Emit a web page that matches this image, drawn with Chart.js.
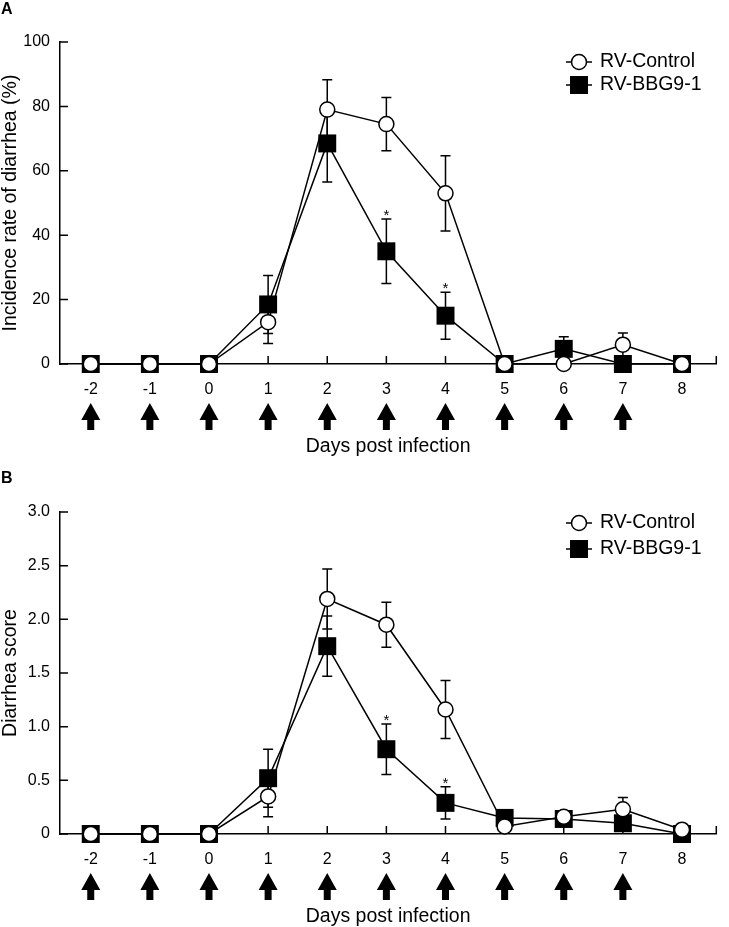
<!DOCTYPE html>
<html>
<head>
<meta charset="utf-8">
<script src="https://cdn.jsdelivr.net/npm/chart.js@4.4.1/dist/chart.umd.min.js"></script>
<style>
  body { margin: 0; background: #fff; overflow: hidden; }
  .panel { position: absolute; left: 0; width: 729px; height: 470px; }
  .letter { position: absolute; left: 1px; font: bold 16px 'Liberation Sans', Arial, sans-serif; color: #000; }
</style>
</head>
<body>
<div class="panel" style="top:0"><canvas id="chartA"></canvas></div>
<div class="panel" style="top:470px"><canvas id="chartB"></canvas></div>
<div class="letter" style="top:0">A</div>
<div class="letter" style="top:469px">B</div>
<script>
const days = [-2, -1, 0, 1, 2, 3, 4, 5, 6, 7, 8];
const arrowDays = [-2, -1, 0, 1, 2, 3, 4, 5, 6, 7];
const starDays = [3, 4];
const seriesNames = ['RV-Control', 'RV-BBG9-1'];

// panel A - incidence rate of diarrhea (%)
const incControl    = [0, 0, 0, 13, 79, 74.5, 53, 0, 0, 6, 0];
const incControlErr = [0, 0, 0, 6.6, 9.3, 8.3, 11.7, 0, 0, 3.6, 0];
const incBBG        = [0, 0, 0, 18.5, 68.5, 35, 15, 0, 4.7, 0, 0];
const incBBGErr     = [0, 0, 0, 9, 12, 10, 7.3, 0, 3.8, 0, 0];

// panel B - diarrhea score
const scoreControl    = [0, 0, 0, 0.35, 2.19, 1.95, 1.16, 0.07, 0.16, 0.23, 0.04];
const scoreControlErr = [0, 0, 0, 0.19, 0.28, 0.21, 0.27, 0, 0, 0.11, 0];
const scoreBBG        = [0, 0, 0, 0.52, 1.75, 0.79, 0.29, 0.15, 0.14, 0.1, 0];
const scoreBBGErr     = [0, 0, 0, 0.27, 0.28, 0.235, 0.15, 0, 0, 0, 0];

const FONT = "'Liberation Sans', Arial, sans-serif";
const NARROW = "'Liberation Sans Narrow', 'Liberation Sans', Arial, sans-serif";

// square marker drawn by chart.js: side = 2 * radius * sqrt(1/2)
const SQ_RADIUS = 12.7;
const CIRCLE_RADIUS = 7.5;

function drawMarker(ctx, style, x, y) {
  ctx.save();
  ctx.lineWidth = 1.5;
  ctx.strokeStyle = '#000';
  if (style === 'circle') {
    ctx.fillStyle = '#fff';
    ctx.beginPath();
    ctx.arc(x, y, CIRCLE_RADIUS, 0, Math.PI * 2);
    ctx.fill();
    ctx.stroke();
  } else {
    const s = SQ_RADIUS * Math.SQRT1_2;
    ctx.fillStyle = '#000';
    ctx.fillRect(x - s, y - s, 2 * s, 2 * s);
  }
  ctx.restore();
}

const decor = {
  id: 'decor',
  beforeDatasetsDraw(chart) {
    const {ctx, chartArea: area, scales: {x, y}} = chart;
    ctx.save();
    ctx.strokeStyle = '#000';
    ctx.lineWidth = 1.5;

    // inward tick marks
    ctx.beginPath();
    x.ticks.forEach(t => {
      const px = x.getPixelForValue(t.value);
      ctx.moveTo(px, area.bottom); ctx.lineTo(px, area.bottom - 8);
    });
    ctx.moveTo(area.right, area.bottom); ctx.lineTo(area.right, area.bottom - 8);
    y.ticks.forEach(t => {
      const py = y.getPixelForValue(t.value);
      ctx.moveTo(area.left, py); ctx.lineTo(area.left + 8, py);
    });
    ctx.stroke();

    // error bars
    chart.data.datasets.forEach(ds => {
      ds.data.forEach((p, i) => {
        const e = ds.err[i];
        if (!e) return;
        const px = x.getPixelForValue(p.x);
        const top = y.getPixelForValue(p.y + e);
        const bot = y.getPixelForValue(Math.max(0, p.y - e));
        ctx.beginPath();
        ctx.moveTo(px, top); ctx.lineTo(px, bot);
        ctx.moveTo(px - 5, top); ctx.lineTo(px + 5, top);
        ctx.moveTo(px - 5, bot); ctx.lineTo(px + 5, bot);
        ctx.stroke();
      });
    });
    ctx.restore();
  },
  afterDatasetsDraw(chart) {
    const {ctx, scales: {x, y}} = chart;
    const ds = chart.data.datasets[1];
    ctx.save();
    ctx.fillStyle = '#000';
    ctx.font = '15px ' + FONT;
    ctx.textAlign = 'center';
    ctx.textBaseline = 'alphabetic';
    starDays.forEach(d => {
      const i = days.indexOf(d);
      const py = y.getPixelForValue(ds.data[i].y + ds.err[i]);
      ctx.fillText('*', x.getPixelForValue(d), py + 1);
    });
    ctx.restore();
  },
  afterDraw(chart, args, opts) {
    const {ctx, chartArea: area, scales: {x}} = chart;
    ctx.save();
    ctx.strokeStyle = '#000';
    ctx.lineWidth = 1.5;

    // treatment arrows under the day labels
    ctx.fillStyle = '#000';
    arrowDays.forEach(d => {
      const px = x.getPixelForValue(d);
      const t = area.bottom + 39, b = area.bottom + 56, e = area.bottom + 66;
      ctx.beginPath();
      ctx.moveTo(px, t);
      ctx.lineTo(px + 9.5, b);
      ctx.lineTo(px + 3.5, b);
      ctx.lineTo(px + 3.5, e);
      ctx.lineTo(px - 3.5, e);
      ctx.lineTo(px - 3.5, b);
      ctx.lineTo(px - 9.5, b);
      ctx.closePath();
      ctx.fill();
    });

    // legend
    const styles = ['circle', 'rect'];
    ctx.font = '19.5px ' + FONT;
    ctx.textBaseline = 'middle';
    ctx.textAlign = 'left';
    seriesNames.forEach((name, i) => {
      const ly = opts.legendY[i];
      ctx.beginPath();
      ctx.moveTo(566, ly); ctx.lineTo(592, ly);
      ctx.stroke();
      drawMarker(ctx, styles[i], 579, ly);
      ctx.fillText(name, 600, ly);
    });
    ctx.restore();
  }
};

function makeChart(id, ctrl, ctrlErr, bbg, bbgErr, yTitle, yMax, yStep, fmt, legendY) {
  const toPoints = vals => days.map((d, i) => ({x: d, y: vals[i]}));
  return new Chart(document.getElementById(id), {
    type: 'line',
    data: {
      datasets: [{
        label: seriesNames[0],
        data: toPoints(ctrl),
        err: ctrlErr,
        clip: false,
        borderColor: '#000',
        borderWidth: 1.5,
        pointStyle: 'circle',
        pointRadius: CIRCLE_RADIUS,
        pointBackgroundColor: '#fff',
        pointBorderColor: '#000',
        pointBorderWidth: 1.5,
        tension: 0
      }, {
        label: seriesNames[1],
        data: toPoints(bbg),
        err: bbgErr,
        clip: false,
        borderColor: '#000',
        borderWidth: 1.5,
        pointStyle: 'rect',
        pointRadius: SQ_RADIUS,
        pointBackgroundColor: '#000',
        pointBorderColor: '#000',
        pointBorderWidth: 0,
        tension: 0
      }]
    },
    options: {
      responsive: true,
      maintainAspectRatio: false,
      animation: false,
      events: [],
      layout: { padding: { top: 42, right: 3, left: 0, bottom: 0 } },
      plugins: {
        legend: { display: false },
        tooltip: { enabled: false },
        decor: { legendY: legendY }
      },
      scales: {
        x: {
          type: 'linear',
          min: -2.52,
          max: 8.58,
          grid: { display: false, drawTicks: false },
          border: { display: true, color: '#000', width: 1.5 },
          ticks: {
            stepSize: 1,
            includeBounds: false,
            padding: 16,
            color: '#000',
            font: { family: NARROW, size: 16 }
          },
          title: {
            display: true,
            text: 'Days post infection',
            color: '#000',
            font: { family: FONT, size: 19.5 },
            padding: { top: 0, bottom: 12 }
          },
          afterFit: s => { s.height = 106; }
        },
        y: {
          min: 0,
          max: yMax,
          grid: { display: false, drawTicks: false },
          border: { display: true, color: '#000', width: 1.5 },
          ticks: {
            stepSize: yStep,
            padding: 10,
            color: '#000',
            font: { family: FONT, size: 16 },
            callback: fmt
          },
          title: {
            display: true,
            text: yTitle,
            color: '#000',
            font: { family: FONT, size: 19.5, lineHeight: 1.1 },
            padding: { top: 0, bottom: 0 }
          },
          afterFit: s => { s.width = 60; }
        }
      }
    },
    plugins: [decor]
  });
}

makeChart('chartA', incControl, incControlErr, incBBG, incBBGErr,
  'Incidence rate of diarrhea (%)', 100, 20, v => String(v), [62, 85]);
makeChart('chartB', scoreControl, scoreControlErr, scoreBBG, scoreBBGErr,
  'Diarrhea score', 3, 0.5, v => (v === 0 ? '0' : v.toFixed(1)), [53, 79]);
</script>
</body>
</html>
